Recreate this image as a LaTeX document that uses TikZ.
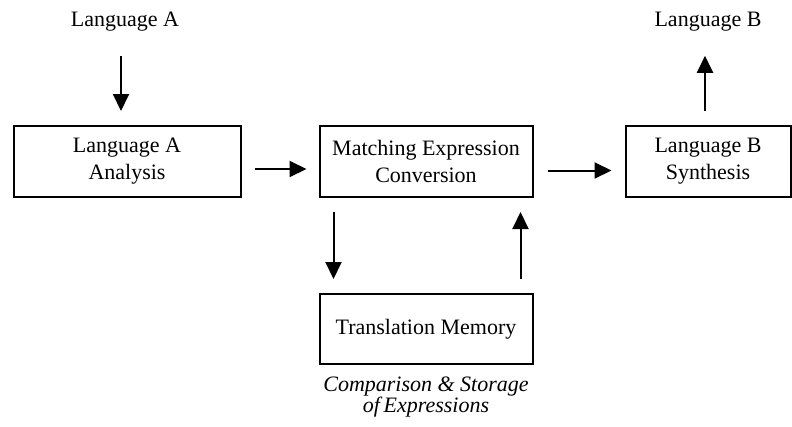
\documentclass[tikz,border=0pt]{standalone}
\usepackage{fontspec}
\setmainfont{Liberation Serif}
\usetikzlibrary{arrows.meta}
\begin{document}
\begin{tikzpicture}[x=1pt,y=-1pt,
  boxnode/.style={draw,line width=2pt,minimum height=71pt,inner sep=0pt,align=center,
    font=\fontsize{22}{27}\selectfont},
  lbl/.style={inner sep=0pt,font=\fontsize{22}{26.5}\selectfont},
  conn/.style={line width=2pt,-{Triangle[length=17pt,width=16pt]}}]
\useasboundingbox (0,0) rectangle (792,426);
\node[lbl] (LA) at (125,22) {Language A};
\node[lbl] (LB) at (708,22) {Language B};
\node[boxnode,minimum width=227pt] (A) at (127,161.5) {Language A\\Analysis};
\node[boxnode,minimum width=213pt] (M) at (426,161.5) {Matching Expression\\Conversion};
\node[boxnode,minimum width=165pt] (B) at (708,161.5) {Language B\\Synthesis};
\node[boxnode,minimum width=213pt,minimum height=70pt] (TM) at (426,329) {Translation Memory};
\node[inner sep=0pt,align=center,font=\fontsize{22}{20}\selectfont\itshape] (C) at (426,397)
  {Comparison \& Storage\\of\,Expressions};
\draw[conn,shorten <=24pt,shorten >=14pt] ([xshift=-4pt]LA.south) -- ([xshift=-6pt]A.north);
\draw[conn,shorten <=14pt,shorten >=24pt] ([xshift=-3pt]B.north) -- ([xshift=-3pt]LB.south);
\draw[conn,shorten <=13pt,shorten >=12pt] ([yshift=-7.5pt]A.east) -- ([yshift=-7.5pt]M.west);
\draw[conn,shorten <=14pt,shorten >=13pt] ([yshift=-9pt]M.east) -- ([yshift=-9pt]B.west);
\draw[conn,shorten <=14pt,shorten >=14pt] ([xshift=15pt]M.south west) -- ([xshift=15pt]TM.north west);
\draw[conn,shorten <=14pt,shorten >=14pt] ([xshift=-13pt]TM.north east) -- ([xshift=-13pt]M.south east);
\end{tikzpicture}
\end{document}
